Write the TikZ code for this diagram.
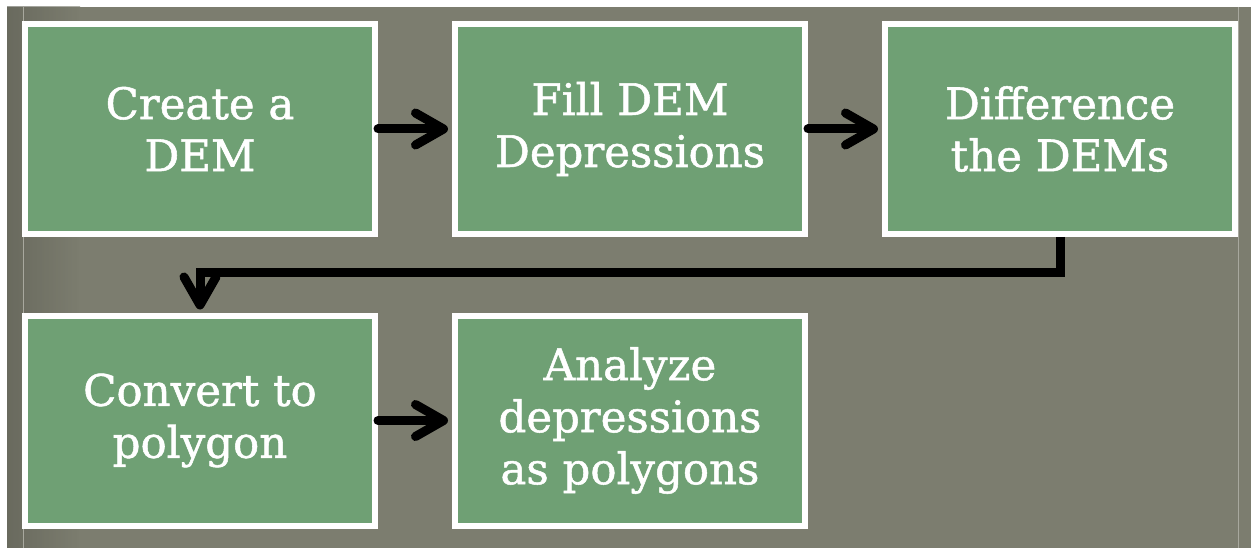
\documentclass[tikz,border=0pt]{standalone}
\usepackage{fontspec}
\setmainfont{DejaVu Serif}[FakeBold=1.2]
\usetikzlibrary{arrows.meta}
\definecolor{boxgreen}{RGB}{111,160,116}
\definecolor{terrain}{RGB}{124,125,111}
\definecolor{guide}{RGB}{168,168,158}
\tikzset{
  stepbox/.style={draw=white, line width=6pt, fill=boxgreen, minimum width=350pt,
    minimum height=210pt, inner sep=0pt, text=white, align=center,
    font=\fontsize{43.5}{52}\selectfont},
  flow/.style={draw=black, line width=9pt, line cap=round,
    -{Straight Barb[length=28pt, width=32pt, round]}}
}
\begin{document}
\begin{tikzpicture}[x=1pt,y=-1pt]
\useasboundingbox (0,0) rectangle (1251,548);
\fill[white] (0,0) rectangle (1251,548);
\fill[terrain] (7,7) rectangle (1251,548);
\shade[left color=black!25!terrain, right color=terrain, opacity=0.6] (7,7) rectangle (80,548);
\draw[guide, line width=1pt] (23,7) -- (23,548);
\draw[guide, line width=1pt] (1238,7) -- (1238,548);
\node[stepbox] (b1) at (200,129) {Create a\\DEM};
\node[stepbox] (b2) at (630,129) {Fill DEM\\Depressions};
\node[stepbox] (b3) at (1060,129) {Difference\\the DEMs};
\node[stepbox] (b4) at (200,420.5) {Convert to\\polygon};
\node[stepbox] (b5) at (630,420.5) {Analyze\\depressions\\as polygons};
\draw[flow, shorten >=4pt] (b1.east) -- (b2.west);
\draw[flow, shorten >=4pt] (b2.east) -- (b3.west);
\draw[flow, shorten >=4pt] (b4.east) -- (b5.west);
\draw[flow, line cap=butt, shorten >=3pt] (b3.south) -- ++(0,36) -| (b4.north);
\end{tikzpicture}
\end{document}
